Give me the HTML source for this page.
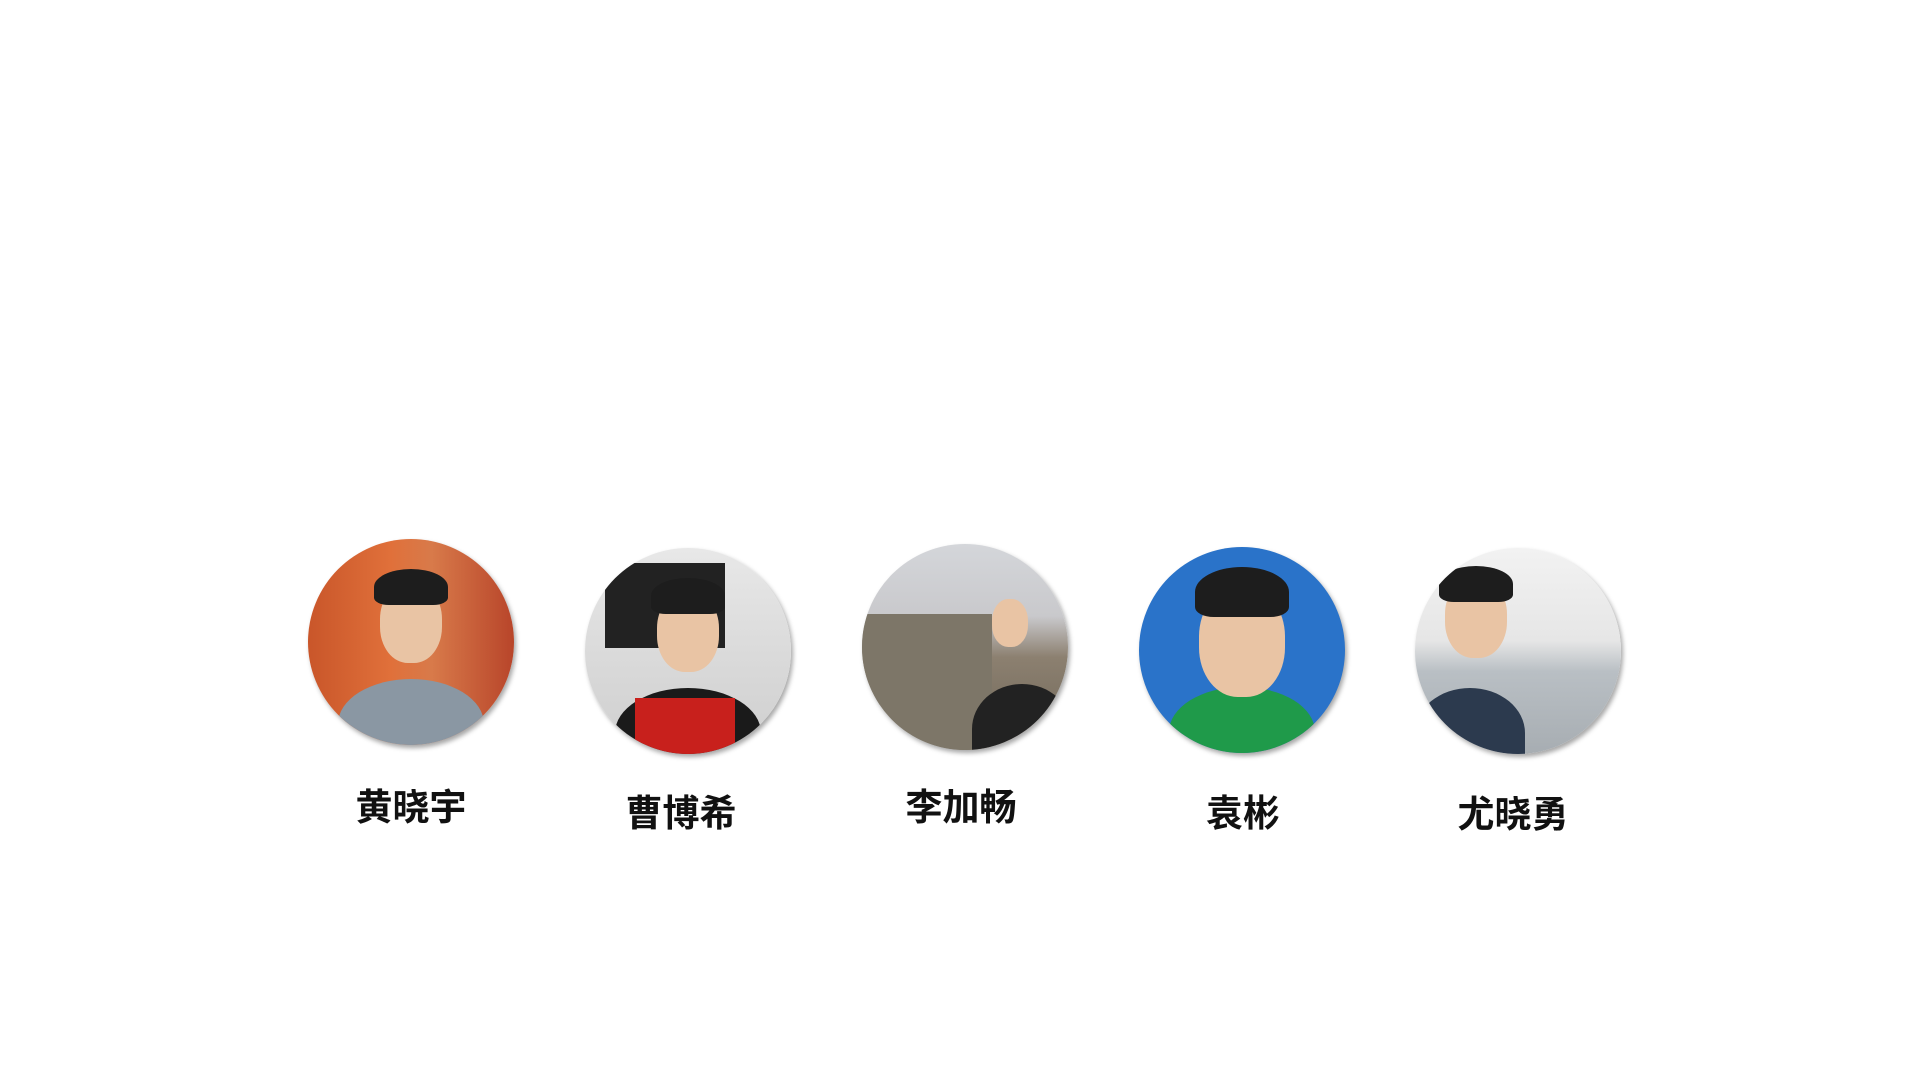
<!DOCTYPE html>
<html><head><meta charset="utf-8">
<style>
html,body{margin:0;padding:0;background:#fff;width:1920px;height:1080px;overflow:hidden;position:relative;font-family:"Liberation Sans","Noto Sans CJK SC",sans-serif}
.av{position:absolute;width:206px;height:206px;border-radius:50%;overflow:hidden;box-shadow:2px 3px 5px rgba(0,0,0,.35)}
.av .face{position:absolute;left:72px;top:44px;width:62px;height:80px;border-radius:45%;background:#e9c4a4}
.av .hair{position:absolute;left:66px;top:30px;width:74px;height:36px;border-radius:50% 50% 20% 20%;background:#1d1d1d}
.av .body{position:absolute;left:30px;top:140px;width:146px;height:90px;border-radius:50% 50% 0 0}
.nm{position:absolute;font-weight:bold;font-size:37px;color:#111;transform:translateX(-50%);white-space:nowrap}
</style></head><body>
<div class="av" style="left:308px;top:539px;background:linear-gradient(90deg,#c9562a,#e0703a 40%,#d87a4a 60%,#b8452a)"><div class="body" style="background:#8a97a3"></div><div class="face"></div><div class="hair"></div></div>
<div class="av" style="left:585px;top:548px;background:linear-gradient(180deg,#e8e8e8,#d8d8d8 60%,#cfcfcf)"><div style="position:absolute;left:20px;top:15px;width:120px;height:85px;background:#222"></div><div class="body" style="background:#1a1a1a"></div><div class="face"></div><div class="hair"></div><div style="position:absolute;left:50px;top:150px;width:100px;height:60px;background:#c8201c"></div></div>
<div class="av" style="left:862px;top:544px;background:linear-gradient(180deg,#d4d6da,#c9c9cc 35%,#8c8070 55%,#6e6658)"><div style="position:absolute;left:0;top:70px;width:130px;height:140px;background:#7d7668"></div><div class="body" style="left:110px;background:#222;width:100px"></div><div class="face" style="left:130px;top:55px;width:36px;height:48px"></div></div>
<div class="av" style="left:1139px;top:547px;background:#2a73c9"><div class="body" style="background:#1f9a4a"></div><div class="face" style="left:60px;top:40px;width:86px;height:110px"></div><div class="hair" style="left:56px;top:20px;width:94px;height:50px"></div></div>
<div class="av" style="left:1415px;top:548px;background:linear-gradient(180deg,#f2f2f2,#e6e6e6 45%,#b9bfc4 60%,#a7adb2)"><div class="body" style="left:0;background:#2c3a4e;width:110px"></div><div class="face" style="left:30px;top:30px"></div><div class="hair" style="left:24px;top:18px"></div></div>
<div class="nm" style="left:411px;top:777px">黄晓宇</div>
<div class="nm" style="left:681px;top:783px">曹博希</div>
<div class="nm" style="left:961px;top:777px">李加畅</div>
<div class="nm" style="left:1243px;top:783px">袁彬</div>
<div class="nm" style="left:1513px;top:784px">尤晓勇</div>
</body></html>
